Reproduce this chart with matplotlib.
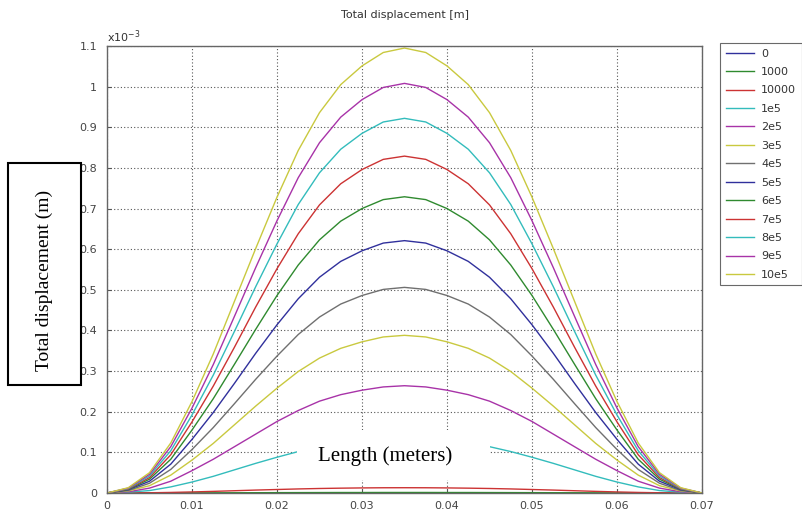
import numpy as np
import matplotlib
matplotlib.use('Agg')
import matplotlib.pyplot as plt
from matplotlib.patches import Rectangle
from matplotlib.ticker import FuncFormatter

# positions along the beam (m)
x_pos = [0.0, 0.0025, 0.005, 0.0075, 0.01, 0.0125, 0.015, 0.0175, 0.02, 0.0225,
         0.025, 0.0275, 0.03, 0.0325, 0.035, 0.0375, 0.04, 0.0425, 0.045, 0.0475,
         0.05, 0.0525, 0.055, 0.0575, 0.06, 0.0625, 0.065, 0.0675, 0.07]

load_labels = ['0', '1000', '10000', '1e5', '2e5', '3e5', '4e5',
               '5e5', '6e5', '7e5', '8e5', '9e5', '10e5']

# total displacement in units of 1e-3 m, one list per load
disp_0 = [0.0] * 29
disp_1000 = [0, 0, 0.0001, 0.0001, 0.0003, 0.0004, 0.0006, 0.0007, 0.0009, 0.0010,
             0.0011, 0.0012, 0.0012, 0.0013, 0.0013, 0.0013, 0.0012, 0.0012, 0.0011, 0.0010,
             0.0009, 0.0007, 0.0006, 0.0004, 0.0003, 0.0001, 0.0001, 0, 0]
disp_10000 = [0, 0.0002, 0.0006, 0.0014, 0.0026, 0.0040, 0.0056, 0.0072, 0.0086, 0.0100,
              0.0111, 0.0119, 0.0125, 0.0129, 0.0130, 0.0129, 0.0125, 0.0119, 0.0111, 0.0100,
              0.0086, 0.0072, 0.0056, 0.0040, 0.0026, 0.0014, 0.0006, 0.0002, 0]
disp_1e5 = [0, 0.002, 0.006, 0.015, 0.027, 0.041, 0.057, 0.073, 0.088, 0.102,
            0.114, 0.122, 0.128, 0.132, 0.133, 0.132, 0.128, 0.122, 0.114, 0.102,
            0.088, 0.073, 0.057, 0.041, 0.027, 0.015, 0.006, 0.002, 0]
disp_2e5 = [0, 0.003, 0.012, 0.029, 0.055, 0.083, 0.114, 0.145, 0.176, 0.203,
            0.226, 0.242, 0.253, 0.261, 0.264, 0.261, 0.253, 0.242, 0.226, 0.203,
            0.176, 0.145, 0.114, 0.083, 0.055, 0.029, 0.012, 0.003, 0]
disp_3e5 = [0, 0.005, 0.018, 0.044, 0.081, 0.122, 0.168, 0.214, 0.258, 0.299,
            0.332, 0.356, 0.372, 0.384, 0.388, 0.384, 0.372, 0.356, 0.332, 0.299,
            0.258, 0.214, 0.168, 0.122, 0.081, 0.044, 0.018, 0.005, 0]
disp_4e5 = [0, 0.006, 0.024, 0.058, 0.107, 0.161, 0.220, 0.280, 0.337, 0.390,
            0.433, 0.465, 0.486, 0.501, 0.506, 0.501, 0.486, 0.465, 0.433, 0.390,
            0.337, 0.280, 0.220, 0.161, 0.107, 0.058, 0.024, 0.006, 0]
disp_5e5 = [0, 0.008, 0.029, 0.071, 0.132, 0.198, 0.270, 0.344, 0.414, 0.478,
            0.531, 0.570, 0.596, 0.615, 0.621, 0.615, 0.596, 0.570, 0.531, 0.478,
            0.414, 0.344, 0.270, 0.198, 0.132, 0.071, 0.029, 0.008, 0]
disp_6e5 = [0, 0.009, 0.034, 0.083, 0.155, 0.232, 0.317, 0.403, 0.486, 0.561,
            0.623, 0.669, 0.700, 0.722, 0.729, 0.722, 0.700, 0.669, 0.623, 0.561,
            0.486, 0.403, 0.317, 0.232, 0.155, 0.083, 0.034, 0.009, 0]
disp_7e5 = [0, 0.010, 0.038, 0.094, 0.175, 0.263, 0.359, 0.458, 0.552, 0.638,
            0.709, 0.761, 0.796, 0.821, 0.829, 0.821, 0.796, 0.761, 0.709, 0.638,
            0.552, 0.458, 0.359, 0.263, 0.175, 0.094, 0.038, 0.010, 0]
disp_8e5 = [0, 0.011, 0.042, 0.104, 0.192, 0.290, 0.398, 0.508, 0.613, 0.710,
            0.788, 0.846, 0.885, 0.913, 0.922, 0.913, 0.885, 0.846, 0.788, 0.710,
            0.613, 0.508, 0.398, 0.290, 0.192, 0.104, 0.042, 0.011, 0]
disp_9e5 = [0, 0.012, 0.046, 0.114, 0.209, 0.316, 0.435, 0.555, 0.670, 0.776,
            0.862, 0.925, 0.968, 0.998, 1.008, 0.998, 0.968, 0.925, 0.862, 0.776,
            0.670, 0.555, 0.435, 0.316, 0.209, 0.114, 0.046, 0.012, 0]
disp_10e5 = [0, 0.013, 0.050, 0.123, 0.225, 0.342, 0.472, 0.602, 0.728, 0.843,
             0.936, 1.005, 1.051, 1.084, 1.095, 1.084, 1.051, 1.005, 0.936, 0.843,
             0.728, 0.602, 0.472, 0.342, 0.225, 0.123, 0.050, 0.013, 0]

all_disp = [disp_0, disp_1000, disp_10000, disp_1e5, disp_2e5, disp_3e5, disp_4e5,
            disp_5e5, disp_6e5, disp_7e5, disp_8e5, disp_9e5, disp_10e5]

cycle = ['#30309c', '#2f8a2f', '#cc3333', '#33bcbc', '#a833a8', '#c9c93f', '#707070']

fig = plt.figure(figsize=(8.02, 5.15), dpi=100)
ax = fig.add_axes([107 / 802, 1 - 493 / 515, 595 / 802, 447 / 515])

for i, (lab, d) in enumerate(zip(load_labels, all_disp)):
    ax.plot(x_pos, d, color=cycle[i % 7], lw=1.0, label=lab)

ax.set_xlim(0, 0.07)
ax.set_ylim(0, 1.1)
ax.set_xticks(np.arange(0, 0.0701, 0.01))
ax.set_yticks(np.arange(0, 1.101, 0.1))
fmt = FuncFormatter(lambda v, p: '%g' % round(v, 4))
ax.xaxis.set_major_formatter(fmt)
ax.yaxis.set_major_formatter(fmt)
ax.tick_params(direction='in', length=3, labelsize=8, colors='#555555', labelcolor='#444444')
ax.tick_params(axis='x', pad=6)
ax.tick_params(axis='y', pad=7)
ax.grid(True, linestyle=(0, (1, 2)), color='#555555', lw=0.8)
for s in ax.spines.values():
    s.set_color('#666666')
    s.set_linewidth(1.0)

ax.text(0.0, 1.003, 'x10$^{-3}$', transform=ax.transAxes, fontsize=8, color='#333333',
        ha='left', va='bottom')
fig.text(405 / 802, 1 - 15 / 515, 'Total displacement [m]', fontsize=8, color='#333333',
         ha='center', va='center')

# white box with the x-axis caption inside the plot
fig.patches.append(Rectangle((297 / 802, 1 - 480 / 515), 193 / 802, 50 / 515,
                             transform=fig.transFigure, facecolor='white',
                             edgecolor='none', zorder=5))
fig.text(385 / 802, 1 - 456 / 515, 'Length (meters)', family='Liberation Serif',
         fontsize=15, ha='center', va='center', zorder=6)

# framed y-axis caption on the left
fig.patches.append(Rectangle((8 / 802, 1 - 385 / 515), 73 / 802, 222 / 515,
                             transform=fig.transFigure, facecolor='white',
                             edgecolor='black', lw=1.5, zorder=5))
fig.text(44 / 802, 1 - 280 / 515, 'Total displacement (m)', family='Liberation Serif',
         fontsize=14, rotation=90, ha='center', va='center', zorder=6)

leg = ax.legend(loc='upper left', bbox_to_anchor=(720 / 802, 1 - 43 / 515),
                bbox_transform=fig.transFigure, fontsize=8, frameon=True,
                fancybox=False, handlelength=2.6, labelspacing=0.76,
                borderaxespad=0, borderpad=0.5, handletextpad=0.6)
leg.get_frame().set_edgecolor('#444444')
leg.get_frame().set_linewidth(0.8)
for t in leg.get_texts():
    t.set_color('#333333')

fig.savefig('out.png', dpi=100)
